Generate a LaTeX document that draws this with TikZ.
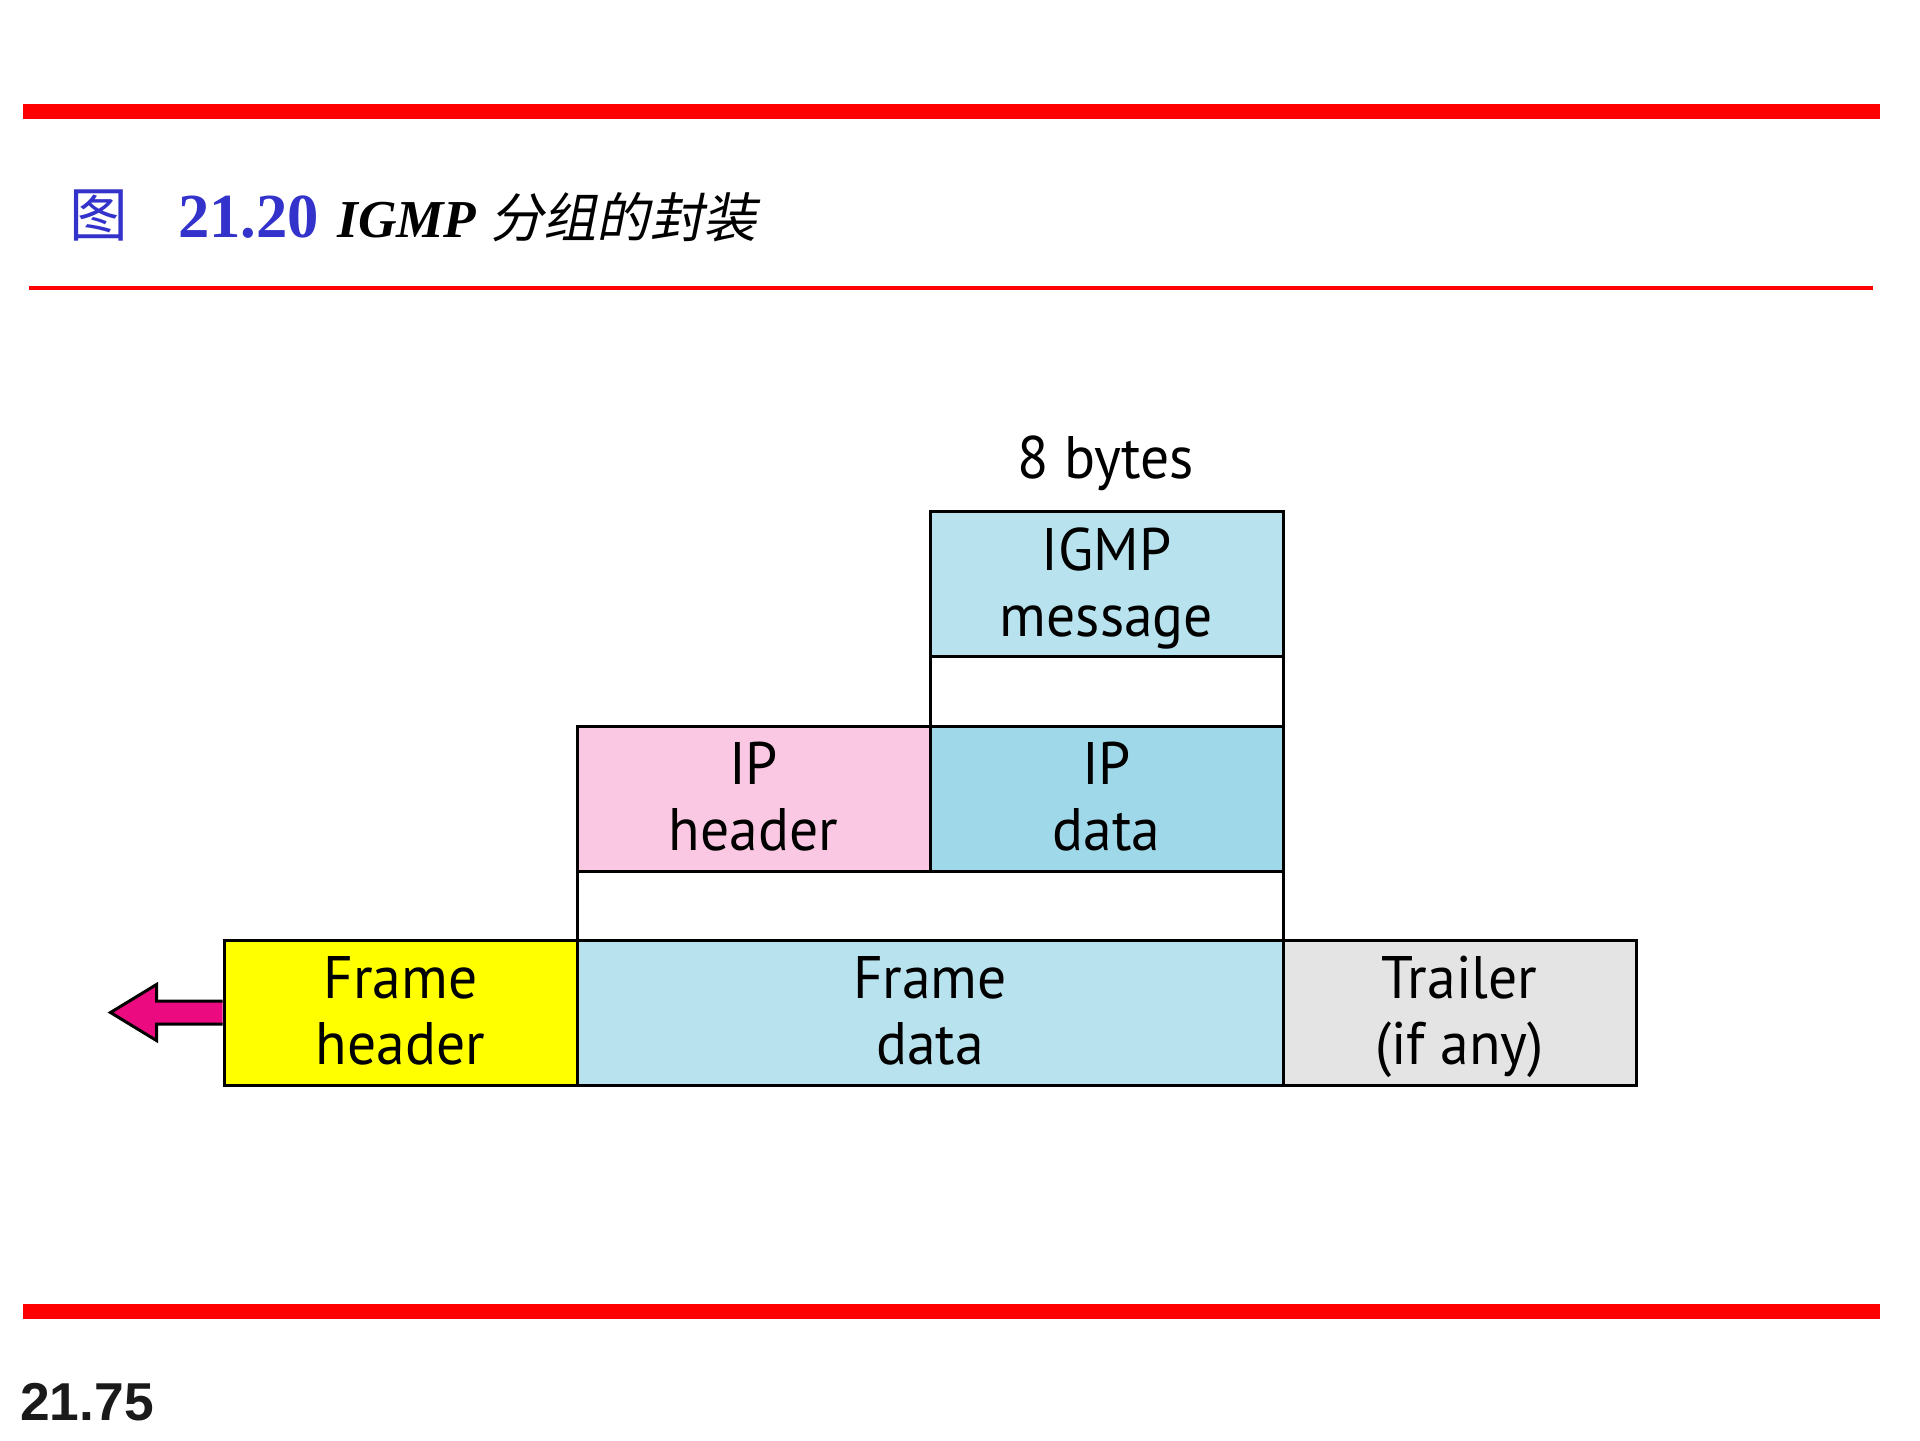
\documentclass[tikz,border=0pt]{standalone}
\usepackage{fontspec}
\setmainfont{Liberation Serif}
\newfontfamily\cjk{Noto Sans CJK SC}
\newfontfamily\cjkit[FakeSlant=0.2]{Noto Sans CJK SC}
\newfontfamily\lab[FakeStretch=0.96]{PT Sans}
\newfontfamily\arialf{Liberation Sans}
\definecolor{titleblue}{RGB}{51,51,204}
\definecolor{boxblue}{RGB}{184,227,238}
\definecolor{boxblueB}{RGB}{159,216,232}
\definecolor{boxpink}{RGB}{250,200,226}
\definecolor{boxyellow}{RGB}{255,255,0}
\definecolor{boxgray}{RGB}{228,228,228}
\definecolor{arrowpink}{RGB}{236,10,128}
\definecolor{pagegray}{RGB}{26,26,26}
\newcommand{\twolines}[2]{#1\vrule width 0pt height 43.65pt depth 14.85pt\\#2\vrule width 0pt height 34.65pt depth 14.85pt}
\begin{document}
\begin{tikzpicture}[x=0.75pt,y=-0.75pt,
  box/.style={draw=black, line width=2.25pt, inner sep=0pt, align=center,
    minimum width=353*0.75pt, minimum height=145*0.75pt,
    font=\lab\fontsize{45}{49.5}\selectfont},
  gapbox/.style={draw=black, line width=2.25pt, inner sep=0pt, fill=white,
    minimum height=70*0.75pt},
  lbl/.style={inner sep=0pt, font=\lab\fontsize{45}{49.5}\selectfont}]
\useasboundingbox (0,0) rectangle (1920,1440);
\fill[white] (0,0) rectangle (1920,1440);
% rules
\fill[red] (23,104) rectangle (1880,119);
\fill[red] (29,286) rectangle (1873,290);
\fill[red] (23,1304) rectangle (1880,1319);
% title
\node[anchor=base west, inner sep=0pt, text=titleblue, font=\cjk\fontsize{44}{44}\selectfont] (tfig) at (69,236) {图};
\node[anchor=base west, inner sep=0pt, text=titleblue, font=\bfseries\fontsize{47}{47}\selectfont] (tnum) at (178,237) {21.20};
\node[anchor=base west, inner sep=0pt, font=\bfseries\itshape\fontsize{40}{40}\selectfont] (tigmp) at (337,237) {IGMP};
\node[anchor=base west, inner sep=0pt, font=\cjkit\fontsize{40}{40}\selectfont] (tcn) at (490,237) {分组的封装};
% page number
\node[anchor=base west, inner sep=0pt, text=pagegray, font=\arialf\bfseries\fontsize{40}{40}\selectfont] (pnum) at (20,1420) {21.75};
% boxes
\node[box, fill=boxblue] (igmp) at (1106.5,584) {\twolines{IGMP}{message}};
\node[gapbox, minimum width=353*0.75pt] (gap1) at (1106.5,691) {};
\node[box, fill=boxpink] (iph) at (753.5,798.5) {\twolines{IP}{header}};
\node[box, fill=boxblueB] (ipd) at (1106.5,798.5) {\twolines{IP}{data}};
\node[gapbox, minimum width=706*0.75pt, minimum height=69*0.75pt] (gap2) at (930,905.5) {};
\node[box, fill=boxyellow] (fh) at (400.5,1012.5) {\twolines{Frame}{header}};
\node[box, fill=boxblue, minimum width=706*0.75pt] (fd) at (930,1012.5) {\twolines{Frame}{data}};
\node[box, fill=boxgray] (tr) at (1459.5,1012.5) {\twolines{Trailer}{(if any)}};
\node[lbl, anchor=base] (bytes) at (1106,478) {8 bytes};
% arrow
\draw[line width=2.25pt, fill=arrowpink, line join=miter]
  (fh.west) ++(0,-11.5) -- ++(-66,0) -- ++(0,-16.5) -- ++(-46,28)
  -- ++(46,28) -- ++(0,-16.5) -- ++(66,0);
\end{tikzpicture}
\end{document}
